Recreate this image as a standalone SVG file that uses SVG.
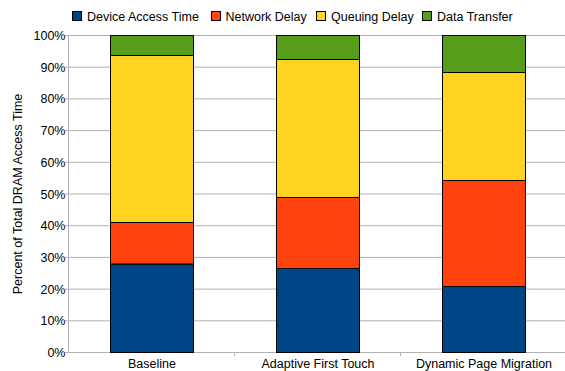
<svg xmlns="http://www.w3.org/2000/svg" width="565" height="371" viewBox="0 0 565 371">
  <style>
    text { font-family: "Liberation Sans", Arial, sans-serif; font-size: 12.5px; fill: #000; }
    .grid { stroke: #b3b3b3; stroke-width: 1; fill: none; }
    .seg { stroke: #000; stroke-width: 1; }
    .dev { fill: #004586; }
    .net { fill: #ff420e; }
    .que { fill: #ffd320; }
    .dat { fill: #579d1c; }
    .ytick { text-anchor: end; }
    .xlab { text-anchor: middle; }
  </style>
  <rect width="565" height="371" fill="#fff"/>

  <!-- gridlines and axes -->
  <g id="axes">
    <path class="grid" d="M65 35.5H565M65 67.2H565M65 98.9H565M65 130.6H565M65 162.3H565M65 194H565M65 225.7H565M65 257.4H565M65 289.1H565M65 320.8H565M65 352.5H565"/>
    <path class="grid" d="M68.5 35.5V352.5M234.5 352.5V356M400.5 352.5V356"/>
    <text class="ytick" x="65.5" y="40">100%</text>
    <text class="ytick" x="65.5" y="71.7">90%</text>
    <text class="ytick" x="65.5" y="103.4">80%</text>
    <text class="ytick" x="65.5" y="135.1">70%</text>
    <text class="ytick" x="65.5" y="166.8">60%</text>
    <text class="ytick" x="65.5" y="198.5">50%</text>
    <text class="ytick" x="65.5" y="230.2">40%</text>
    <text class="ytick" x="65.5" y="261.9">30%</text>
    <text class="ytick" x="65.5" y="293.6">20%</text>
    <text class="ytick" x="65.5" y="325.3">10%</text>
    <text class="ytick" x="65.5" y="357">0%</text>
    <text transform="translate(22,194) rotate(-90)" text-anchor="middle">Percent of Total DRAM Access Time</text>
    <text class="xlab" x="152" y="367.5">Baseline</text>
    <text class="xlab" x="318" y="367.5">Adaptive First Touch</text>
    <text class="xlab" x="484" y="367.5">Dynamic Page Migration</text>
  </g>

  <!-- stacked bars -->
  <g id="bar-baseline">
    <rect class="seg dev" x="110.5" y="264" width="83" height="88.5"/>
    <rect class="seg net" x="110.5" y="222.5" width="83" height="41.5"/>
    <rect class="seg que" x="110.5" y="55.5" width="83" height="167"/>
    <rect class="seg dat" x="110.5" y="35.5" width="83" height="20"/>
  </g>
  <g id="bar-adaptive-first-touch">
    <rect class="seg dev" x="276.5" y="268.5" width="83" height="84"/>
    <rect class="seg net" x="276.5" y="197.5" width="83" height="71"/>
    <rect class="seg que" x="276.5" y="59.5" width="83" height="138"/>
    <rect class="seg dat" x="276.5" y="35.5" width="83" height="24"/>
  </g>
  <g id="bar-dynamic-page-migration">
    <rect class="seg dev" x="442.5" y="286.5" width="83" height="66"/>
    <rect class="seg net" x="442.5" y="180.5" width="83" height="106"/>
    <rect class="seg que" x="442.5" y="72.5" width="83" height="108"/>
    <rect class="seg dat" x="442.5" y="35.5" width="83" height="37"/>
  </g>

  <!-- legend -->
  <g id="legend">
    <rect class="seg dev" x="72.5" y="11.5" width="9" height="9"/>
    <text x="87" y="21">Device Access Time</text>
    <rect class="seg net" x="211.5" y="11.5" width="9" height="9"/>
    <text x="225.5" y="21">Network Delay</text>
    <rect class="seg que" x="316.5" y="11.5" width="9" height="9"/>
    <text x="331" y="21">Queuing Delay</text>
    <rect class="seg dat" x="422.5" y="11.5" width="9" height="9"/>
    <text x="437" y="21">Data Transfer</text>
  </g>
</svg>
